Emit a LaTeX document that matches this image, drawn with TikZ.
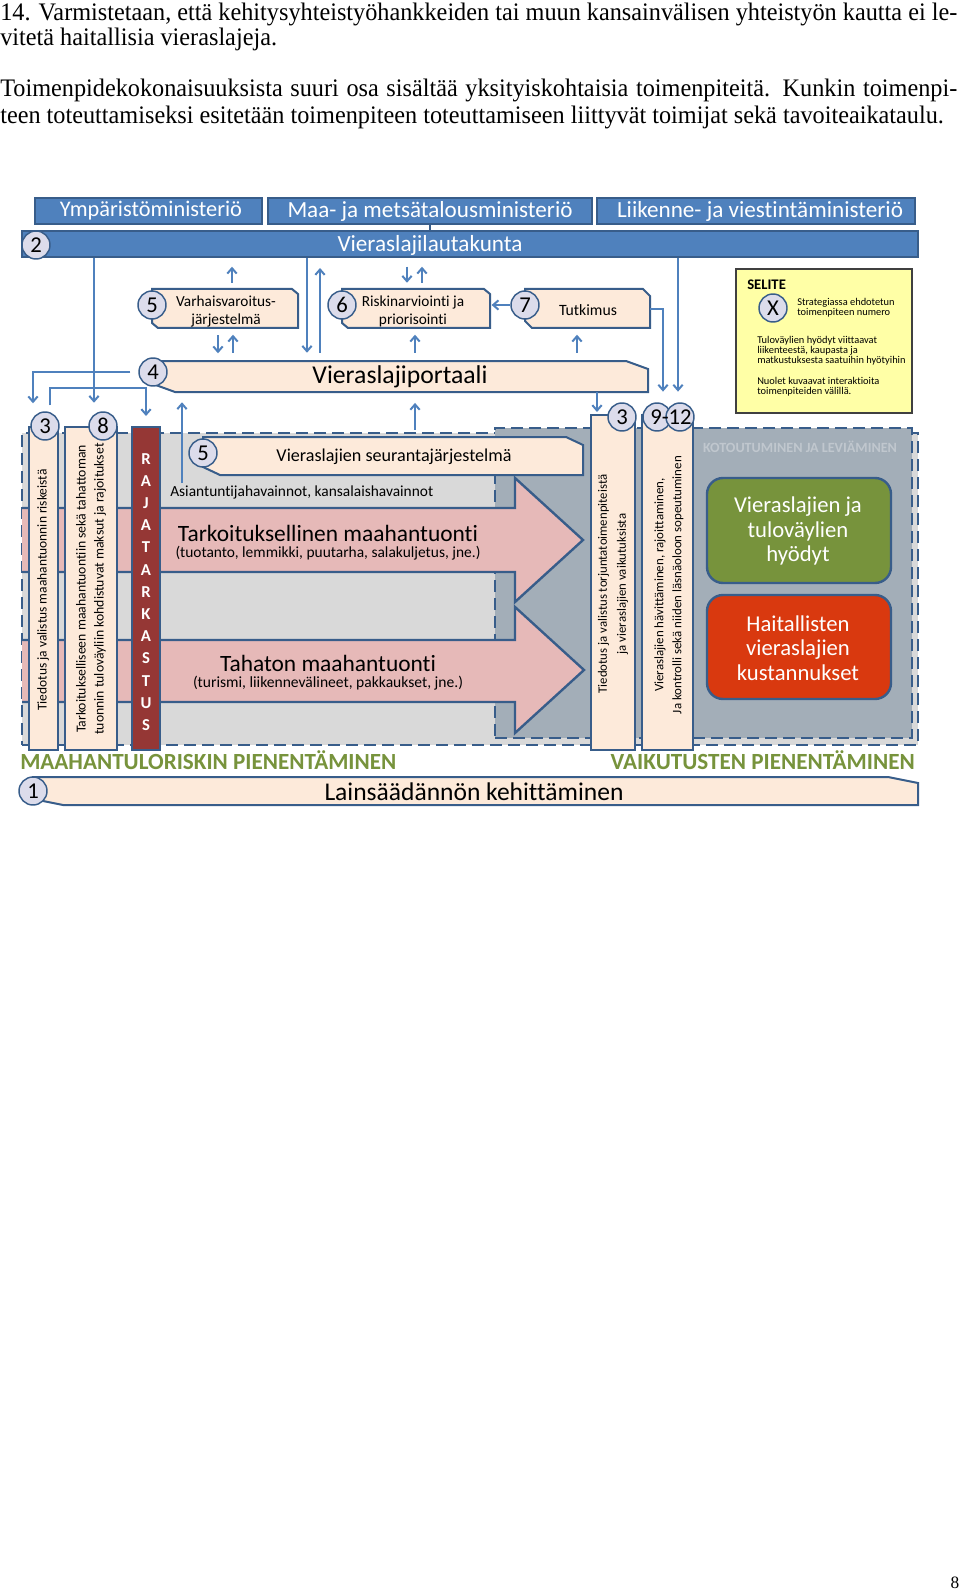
\documentclass[tikz,border=0pt]{standalone}
\usepackage{fontspec}
\setmainfont{Carlito}[Ligatures=NoCommon]
\newfontfamily\tfont{Liberation Serif}
\usetikzlibrary{arrows.meta,fit,calc}
\definecolor{bfill}{HTML}{4F81BD}
\definecolor{bdark}{HTML}{385D8A}
\definecolor{peach}{HTML}{FDEADA}
\definecolor{pinkc}{HTML}{E6B9B8}
\definecolor{lgray}{HTML}{D9D9D9}
\definecolor{dgray}{HTML}{A3AEB8}
\definecolor{rajac}{HTML}{953735}
\definecolor{greenc}{HTML}{77933C}
\definecolor{redc}{HTML}{D9390F}
\definecolor{legy}{HTML}{FFFFA6}
\definecolor{circf}{HTML}{DCDCEB}
\definecolor{kotoc}{HTML}{C0C7CE}
\newlength\Lone
\newcommand\fs[2]{\fontsize{#1}{#2}\selectfont}
\newcommand\mkrect[6][]{\path (#3,#4) coordinate (#2-a) (#5,#6) coordinate (#2-b);
  \node[fit=(#2-a)(#2-b),inner sep=0pt,#1] (#2) {};}
\newcommand\mksnip[8]{\path (#3,#4) coordinate (#2-a) (#5,#6) coordinate (#2-b);
  \node[fit=(#2-a)(#2-b),inner sep=0pt] (#2) {};
  \filldraw[#1] (#3,#4) -- ({#5-#7},#4) -- (#5,{#4+#8}) -- (#5,#6) -- ({#3+#7},#6) -- (#3,{#6-#8}) -- cycle;}
\begin{document}
\settowidth\Lone{\tfont\fs{17}{20}14. Varmistetaan, että kehitysyhteistyöhankkeiden tai muun kansainvälisen yhteistyön kautta ei le-}%
\pgfmathsetmacro\tsc{717.75pt/\Lone}%
\pgfmathsetmacro\tscy{\tsc*1.04}%
\begin{tikzpicture}[x=0.75pt,y=-0.75pt,
  arr/.style={draw=bfill,line width=1.5pt,-{Straight Barb[length=4pt,width=7pt]}},
  ln/.style={draw=bdark,line width=1.5pt},
  numc/.style={circle,draw=bdark,line width=1.1pt,fill=circf,minimum size=21pt,inner sep=0pt,font=\fs{17}{17}},
  barst/.style={draw=bdark,fill=bfill,line width=1.5pt},
  wtxt/.style={text=white,inner sep=0pt},
  pbox/.style={draw=bdark,fill=peach,line width=1.5pt},
  txt/.style={inner sep=0pt,align=center},
  dashreg/.style={draw=bdark,line width=2pt,dash pattern=on 9pt off 4.5pt},
  pinkln/.style={draw=bdark,line width=1.8pt,line join=miter},
  tline/.style={anchor=west,inner sep=0pt,font=\tfont\fs{17}{20}}]
\useasboundingbox (0,0) rectangle (960,1594);
\fill[white] (0,0) rectangle (960,1594);
% ---------- title text
\node[tline] (t1) at (0,14) {\scalebox{\tsc}[\tscy]{14. Varmistetaan, että kehitysyhteistyöhankkeiden tai muun kansainvälisen yhteistyön kautta ei le-}};
\node[tline] (t2) at (0,39) {\scalebox{\tsc}[\tscy]{vitetä haitallisia vieraslajeja.}};
\node[tline] (t3) at (0,90) {\scalebox{\tsc}[\tscy]{\makebox[\Lone][s]{Toimenpidekokonaisuuksista suuri osa sisältää yksityiskohtaisia toimenpiteitä. Kunkin toimenpi-}}};
\node[tline] (t4) at (0,117) {\scalebox{\tsc}[\tscy]{teen toteuttamiseksi esitetään toimenpiteen toteuttamiseen liittyvät toimijat sekä tavoiteaikataulu.}};
% ---------- ministries
\mkrect[barst]{ymp}{35}{198}{262}{224}
\mkrect[barst]{maa}{268}{198}{592}{224}
\mkrect[barst]{liik}{597}{198}{915}{224}
\mkrect[barst]{lauta}{22}{231}{918}{257}
\draw[ln] (maa.south -| 430,0) -- (lauta.north -| 430,0);
\node[wtxt] (ympT) at (151,211) {\resizebox{136.5pt}{!}{\fs{15}{18}Ympäristöministeriö}};
\node[wtxt] (maaT) at (430,211) {\resizebox{213.75pt}{!}{\fs{15}{18}Maa- ja metsätalousministeriö}};
\node[wtxt] (liikT) at (760,211) {\resizebox{214.5pt}{!}{\fs{15}{18}Liikenne- ja viestintäministeriö}};
\node[wtxt] (lautaT) at (430,245) {\resizebox{138.75pt}{!}{\fs{15}{18}Vieraslajilautakunta}};
\node[numc] (c2) at (36,245) {2};
% ---------- row 2
\mksnip{pbox}{box5}{152}{289}{298}{328}{6}{5}
\node[numc] (c5) at (152,305) {5};
\node[txt,font=\fs{11.5}{13.5}] (box5T) at (226,311) {Varhaisvaroitus-\\järjestelmä};
\mksnip{pbox}{box6}{342}{289}{490}{328}{6}{5}
\node[numc] (c6) at (342,305) {6};
\node[txt,font=\fs{11.5}{13.5}] (box6T) at (413,311) {Riskinarviointi ja\\priorisointi};
\mksnip{pbox}{box7}{525}{289}{650}{328}{7}{7}
\node[numc] (c7) at (525,305) {7};
\node[txt,font=\fs{11.8}{13}] (box7T) at (588,310) {Tutkimus};
% ---------- portal
\mksnip{pbox}{portal}{153}{361}{648}{392}{22}{8}
\node[numc] (c4) at (153,372) {4};
\node[txt] (portalT) at (400,377) {\resizebox{131.25pt}{!}{\fs{16}{18}Vieraslajiportaali}};
% ---------- legend
\mkrect[draw=black!75,fill=legy,line width=1pt]{leg}{736}{269}{912}{413}
\node[anchor=west,inner sep=0pt,font=\bfseries\fs{11}{12}] (selT) at (747,285) {SELITE};
\node[numc] (cx) at (773,308) {X};
\node[anchor=west,align=left,inner sep=0pt,font=\fs{7.8}{7.6}] (leg1) at (797,308) {Strategiassa ehdotetun\\toimenpiteen numero};
\node[anchor=west,align=left,inner sep=0pt,font=\fs{7.8}{7.4}] (leg2) at (757,350.5) {Tuloväylien hyödyt viittaavat\\liikenteestä, kaupasta ja\\matkustuksesta saatuihin hyötyihin};
\node[anchor=west,align=left,inner sep=0pt,font=\fs{7.8}{7.4}] (leg3) at (757,386.5) {Nuolet kuvaavat interaktioita\\toimenpiteiden välillä.};
% ---------- regions
\mkrect[fill=lgray,dashreg]{regL}{22}{433}{918}{745}
\mkrect[fill=dgray,dashreg]{regR}{495}{428}{912}{738}
% ---------- pink arrows
\fill[pinkc] (22,508) -- (515,508) -- (515,478) -- (583,540) -- (515,602) -- (515,572) -- (22,572) -- cycle;
\draw[pinkln] (22,508) -- (515,508) -- (515,478) -- (583,540) -- (515,602) -- (515,572) -- (22,572);
\fill[pinkc] (22,640) -- (515,640) -- (515,607) -- (584,670) -- (515,733) -- (515,702) -- (22,702) -- cycle;
\draw[pinkln] (22,640) -- (515,640) -- (515,607) -- (584,670) -- (515,733) -- (515,702) -- (22,702);
% ---------- monitoring
\mksnip{pbox}{seur}{203}{437}{583}{475}{17}{8}
\node[numc] (c5b) at (203,453) {5};
\node[txt] (seurT) at (394,457) {\resizebox{176.25pt}{!}{\fs{11.5}{13}Vieraslajien seurantajärjestelmä}};
\node[anchor=west,inner sep=0pt] (obsT) at (170,492) {\resizebox{197.25pt}{!}{\fs{10}{12}Asiantuntijahavainnot, kansalaishavainnot}};
\node[txt] (tarkT) at (328,533) {\resizebox{225pt}{!}{\fs{15.5}{18}Tarkoituksellinen maahantuonti}};
\node[txt] (tarkS) at (328,553) {\resizebox{228.75pt}{!}{\fs{9.5}{11}(tuotanto, lemmikki, puutarha, salakuljetus, jne.)}};
\node[txt] (tahT) at (328,663) {\resizebox{162pt}{!}{\fs{15.5}{18}Tahaton maahantuonti}};
\node[txt] (tahS) at (328,683) {\resizebox{202.5pt}{!}{\fs{9.5}{11}(turismi, liikennevälineet, pakkaukset, jne.)}};
% ---------- left vertical boxes
\mkrect[pbox]{b3}{29}{427}{58}{750}
\mkrect[pbox]{b8}{65}{427}{117}{750}
\mkrect[draw=bdark,fill=rajac,line width=1.5pt]{raja}{132}{427}{160}{750}
\node[numc] (c3) at (45,426) {3};
\node[numc] (c8) at (103,426) {8};
\node[rotate=90,inner sep=0pt,font=\fs{10.1}{12}] (b3T) at (43,590) {Tiedotus ja valistus maahantuonnin riskeistä};
\node[rotate=90,align=center,inner sep=0pt,font=\fs{10.3}{13.5}] (b8T) at (91,589) {Tarkoitukselliseen maahantuontiin sekä tahattoman\\tuonnin tuloväyliin kohdistuvat maksut ja rajoitukset};
\node[text=white,align=center,inner sep=0pt,font=\bfseries\fs{12.5}{16.65}] (rajaT) at (146,592) {R\\A\\J\\A\\T\\A\\R\\K\\A\\S\\T\\U\\S};
% ---------- right vertical boxes
\mkrect[pbox]{b3r}{591}{415}{635}{750}
\mkrect[pbox]{b912}{642}{415}{693}{750}
\node[numc] (c3r) at (622,417) {3};
\node[numc] (c9) at (657,417) {};
\node[numc] (c12) at (680,417) {};
\node[inner sep=0pt,font=\fs{17}{17}] (n912) at (671,417) {9-12};
\node[rotate=90,align=center,inner sep=0pt,font=\fs{9.6}{14.25}] (b3rT) at (613,584) {Tiedotus ja valistus torjuntatoimenpiteistä\\ja vieraslajien vaikutuksista};
\node[rotate=90,align=center,inner sep=0pt,font=\fs{9.7}{13.5}] (b912T) at (669,585) {Vieraslajien hävittäminen, rajoittaminen,\\Ja kontrolli sekä niiden läsnäoloon sopeutuminen};
% ---------- impacts
\node[text=kotoc,inner sep=0pt] (kotoT) at (800,447) {\resizebox{145.5pt}{!}{\bfseries\fs{9.3}{11}KOTOUTUMINEN JA LEVIÄMINEN}};
\mkrect[draw=bdark,fill=greenc,line width=1.8pt,rounded corners=12pt]{green}{707}{478}{891}{583}
\node[txt,text=white,font=\fs{17}{18.4}] (greenT) at (798,531) {Vieraslajien ja\\tuloväylien\\hyödyt};
\mkrect[draw=bdark,fill=redc,line width=1.8pt,rounded corners=12pt]{red}{707}{595}{891}{699}
\node[txt,text=white,font=\fs{17}{18.4}] (redT) at (798,648) {Haitallisten\\vieraslajien\\kustannukset};
% ---------- bottom
\node[anchor=west,inner sep=0pt,text=greenc] (maaL) at (20,760) {\resizebox{282pt}{!}{\bfseries\fs{16}{18}MAAHANTULORISKIN PIENENTÄMINEN}};
\node[anchor=east,inner sep=0pt,text=greenc] (vaiL) at (915,760) {\resizebox{228pt}{!}{\bfseries\fs{16}{18}VAIKUTUSTEN PIENENTÄMINEN}};
\mksnip{pbox}{lains}{33}{777}{918}{805}{30}{6}
\node[numc] (c1) at (33,791) {1};
\node[txt] (lainsT) at (474,792) {\resizebox{224.25pt}{!}{\fs{17}{19}Lainsäädännön kehittäminen}};
\node[inner sep=0pt,font=\tfont\fs{13}{15}] (pg) at (955,1583) {8};
% ---------- connectors
\draw[arr] (box5.north -| 232,0) ++(0,-6) -- ++(0,-16);
\draw[arr] (box6.north -| 407,0) ++(0,-22) -- ++(0,16);
\draw[arr] (box6.north -| 422,0) ++(0,-6) -- ++(0,-16);
\draw[arr] (box5.south -| 218,0) ++(0,7) -- ++(0,18);
\draw[arr] (portal.north -| 233,0) ++(0,-8) -- ++(0,-18);
\draw[arr] (portal.north -| 415,0) ++(0,-8) -- ++(0,-18);
\draw[arr] (portal.north -| 577,0) ++(0,-8) -- ++(0,-18);
\draw[arr,shorten >=6pt] (lauta.south -| 307,0) -- (portal.north -| 307,0);
\draw[arr,shorten <=6pt,shorten >=7.5pt] (portal.north -| 320,0) -- (lauta.south -| 320,0);
\draw[arr,shorten >=6.4pt] (lauta.south -| 94,0) -- (c8.north -| 94,0);
\draw[arr,shorten >=1pt] (c7.west) -- (box6.east |- c7.west);
\draw[arr,shorten >=8pt] (box7.east |- 0,309) -| (c9.north -| 663,0);
\draw[arr,shorten >=8pt] (lauta.south -| 678,0) -- (c12.north -| 678,0);
\draw[arr,shorten >=1.5pt] (portal.south -| 597,0) -- (b3r.north -| 597,0);
\draw[arr,shorten >=6pt] (c4.west) ++(-8,0) -| (c3.north -| 33,0);
\draw[arr,shorten >=7.5pt] (c3.north -| 50,0) ++(0,-6) -- (50,388) -| (raja.north);
\coordinate (obs) at (182,483);
\draw[arr,shorten >=7.5pt] (obs) -- (portal.south -| obs);
\draw[arr,shorten >=8pt] (seur.north -| 415,0) ++(0,-7) -- (portal.south -| 415,0);
\end{tikzpicture}
\end{document}
